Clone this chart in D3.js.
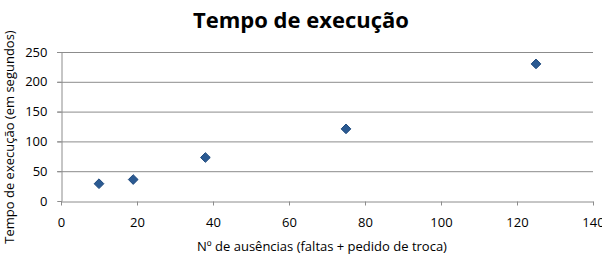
<!DOCTYPE html>
<html>
<head>
<meta charset="utf-8">
<script src="https://cdn.jsdelivr.net/npm/d3@7"></script>
<style>
  body { margin: 0; background: #fff; }
  text { font-family: "Open Sans", "Lato", sans-serif; fill: #000; }
</style>
</head>
<body>
<div id="chart"></div>
<script>
const ausencias = [10, 19, 38, 75, 125];
const tempos = [29, 36, 73, 121, 230];
const xTicks = [0, 20, 40, 60, 80, 100, 120, 140];
const yTicks = [0, 50, 100, 150, 200, 250];
const title = 'Tempo de execução';
const xLabel = 'Nº de ausências (faltas + pedido de troca)';
const yLabel = 'Tempo de execução (em segundos)';

const width = 602, height = 266;
const margin = { top: 52, left: 61 };

const svg = d3.select('#chart').append('svg')
  .attr('width', width)
  .attr('height', height);

const x = d3.scaleLinear().domain([0, 140]).range([margin.left, 593]);
const y = d3.scaleLinear().domain([0, 250]).range([201, margin.top]);

// Gridlines
svg.append('g')
  .selectAll('line')
  .data(yTicks.filter(d => d > 0))
  .join('line')
  .attr('x1', x(0) - 4)
  .attr('x2', x(140))
  .attr('y1', d => y(d) + 0.5)
  .attr('y2', d => y(d) + 0.5)
  .attr('stroke', '#8c8c8c')
  .attr('stroke-width', 1);

// Y axis
const yAxis = svg.append('g')
  .attr('transform', `translate(${x(0) + 0.5},0)`)
  .call(d3.axisLeft(y).tickValues(yTicks).tickSize(4).tickPadding(10));
yAxis.select('.domain').attr('stroke', '#8c8c8c');
yAxis.selectAll('.tick line').attr('stroke', '#8c8c8c');
yAxis.selectAll('text').attr('font-size', 13).attr('fill', '#000');

// X axis
const xAxis = svg.append('g')
  .attr('transform', `translate(0,${y(0) + 0.5})`)
  .call(d3.axisBottom(x).tickValues(xTicks).tickSize(4).tickSizeOuter(0).tickPadding(12));
xAxis.select('.domain').attr('stroke', '#8c8c8c');
xAxis.selectAll('.tick line').attr('stroke', '#8c8c8c');
xAxis.selectAll('text').attr('font-size', 13).attr('fill', '#000');

// Points
const diamond = d3.symbol().type(d3.symbolDiamond2).size(60);
svg.append('g')
  .selectAll('path')
  .data(ausencias.map((d, i) => ({ x: d, y: tempos[i] })))
  .join('path')
  .attr('d', diamond)
  .attr('transform', d => `translate(${x(d.x)},${y(d.y)})`)
  .attr('fill', '#2b5a92')
  .attr('stroke', '#1f4a7e')
  .attr('stroke-width', 1);

// Title
svg.append('text')
  .attr('x', 301)
  .attr('y', 28)
  .attr('text-anchor', 'middle')
  .attr('font-size', 22)
  .attr('font-weight', 'bold')
  .text(title);

// Axis labels
svg.append('text')
  .attr('x', 322)
  .attr('y', 251)
  .attr('text-anchor', 'middle')
  .attr('font-size', 13)
  .text(xLabel);

svg.append('text')
  .attr('transform', `translate(14,137) rotate(-90)`)
  .attr('text-anchor', 'middle')
  .attr('font-size', 13)
  .text(yLabel);
</script>
</body>
</html>
